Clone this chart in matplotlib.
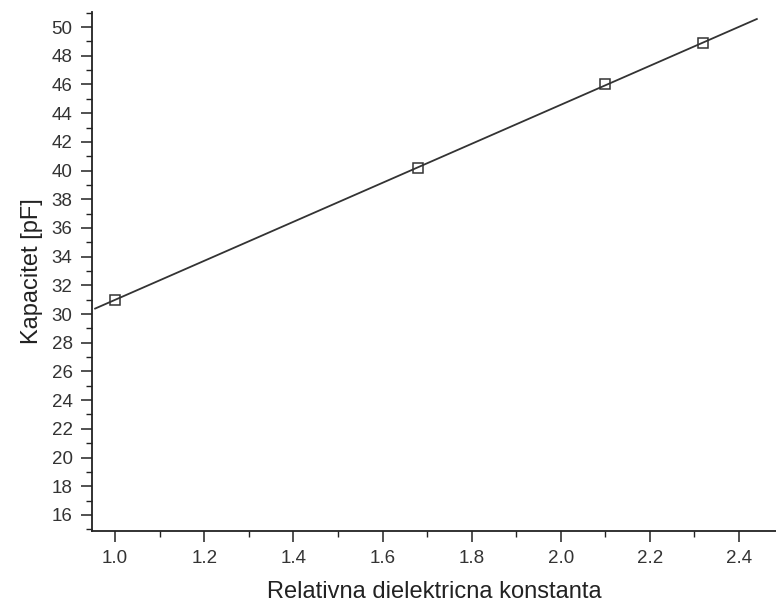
import numpy as np
import matplotlib
matplotlib.use("Agg")
import matplotlib.pyplot as plt
from matplotlib.ticker import MultipleLocator

# data
eps_r = [1.0, 1.68, 2.1, 2.32]
capacitance = [31.0, 40.2, 46.0, 48.9]
fit_range = [0.955, 2.44]

plt.rcParams['font.family'] = ['Liberation Sans', 'DejaVu Sans']

fig = plt.figure(figsize=(7.76, 6.10), dpi=100)
ax = fig.add_axes([92/776, 79/610, 1 - 92/776, (531-12)/610])

slope, intercept = np.polyfit(eps_r, capacitance, 1)
xf = np.array(fit_range)
ax.plot(xf, slope * xf + intercept, color='#333333', lw=1.3, zorder=2)
ax.plot(eps_r, capacitance, linestyle='none', marker='s', markersize=7.5,
        markerfacecolor='none', markeredgecolor='#333333', markeredgewidth=1.1, zorder=3)

ax.set_xlim(0.948, 2.483)
ax.set_ylim(14.88, 51.05)
ax.xaxis.set_minor_locator(MultipleLocator(0.1))
ax.yaxis.set_minor_locator(MultipleLocator(1))
ax.set_yticks(np.arange(16, 51, 2))
ax.set_xticks(np.arange(1.0, 2.41, 0.2))
ax.set_xticklabels([f"{v:.1f}" for v in np.arange(1.0, 2.41, 0.2)])

for s in ['top', 'right']:
    ax.spines[s].set_visible(False)
for s in ['left', 'bottom']:
    ax.spines[s].set_color('#222222')
    ax.spines[s].set_linewidth(1.3)

ax.tick_params(which='major', direction='out', length=8, width=1.1, colors='#222222',
               labelsize=13.5, labelcolor='#333333', pad=6)
ax.tick_params(which='minor', direction='out', length=4, width=1.0, colors='#222222')

ax.set_xlabel('Relativna dielektricna konstanta', fontsize=17, color='#222222', labelpad=10)
ax.set_ylabel('Kapacitet [pF]', fontsize=17, color='#222222', labelpad=6)

fig.savefig('out.png', dpi=100, facecolor='white')
